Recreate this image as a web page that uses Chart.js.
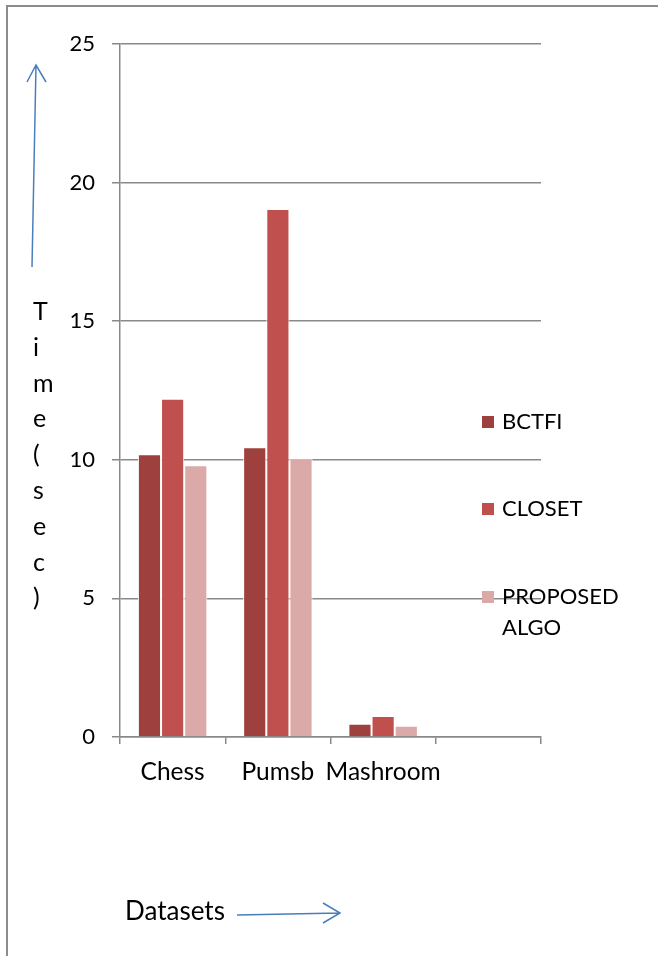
<!DOCTYPE html>
<html>
<head>
<meta charset="utf-8">
<script src="https://cdn.jsdelivr.net/npm/chart.js@4.4.1/dist/chart.umd.min.js"></script>
<style>
  html, body { margin: 0; padding: 0; background: #fff; }
  #wrap { position: relative; width: 658px; height: 956px; }
  #frame { position: absolute; left: 6px; top: 5px; right: 0; bottom: 0;
           border-left: 2px solid #8c8c8c; border-top: 2px solid #8c8c8c; }
  canvas { position: absolute; left: 0; top: 0; }
</style>
</head>
<body>
<div id="wrap">
  <div id="frame"></div>
  <canvas id="chart" width="658" height="956"></canvas>
</div>
<script>
// chart data
const categories = ['Chess', 'Pumsb', 'Mashroom', ''];
const bctfi = [10.2, 10.45, 0.48, null];
const closet = [12.2, 19.05, 0.76, null];
const proposed = [9.8, 10.05, 0.41, null];
const seriesNames = ['BCTFI', 'CLOSET', 'PROPOSED ALGO'];
const seriesColors = ['#9e413e', '#c0504d', '#dba9a8'];
const yMax = 25;
const yStep = 5;
const yTitle = 'Time(sec)';
const xTitle = 'Datasets';

const FONT = 'Lato, "Open Sans", sans-serif';
const GRID = '#898989';
const ARROW = '#4a7ebb';

// legend drawn over the plot, like the original
const sideLegend = {
    id: 'sideLegend',
    afterDraw(chart) {
        const c = chart.ctx;
        const rows = [422, 509, 597];
        c.save();
        c.font = '22px ' + FONT;
        c.textBaseline = 'middle';
        chart.data.datasets.forEach((ds, i) => {
            const y = rows[i];
            c.fillStyle = ds.backgroundColor;
            c.fillRect(482, y - 6, 12, 12);
            c.fillStyle = '#000';
            ds.label.split(' ').forEach((w, j) => c.fillText(w, 502, y + j * 31));
        });
        c.restore();
    }
};

// axis titles with the hand drawn arrows
const axisNotes = {
    id: 'axisNotes',
    afterDraw(chart) {
        const c = chart.ctx;
        c.save();
        c.font = '25px ' + FONT;
        c.fillStyle = '#000';
        c.textBaseline = 'middle';
        yTitle.split('').forEach((ch, i) => {
            c.fillText(ch, 33, 312 + i * 35.8);
        });
        c.font = '26px ' + FONT;
        c.fillText(xTitle, 125, 912);

        c.strokeStyle = ARROW;
        c.lineWidth = 1.5;
        c.beginPath();
        c.moveTo(32, 267); c.lineTo(36, 65);
        c.moveTo(27, 82); c.lineTo(36, 65); c.lineTo(46, 82);
        c.moveTo(237, 915); c.lineTo(340, 913);
        c.moveTo(323, 903); c.lineTo(340, 913); c.lineTo(323, 923);
        c.stroke();
        c.restore();
    }
};

const ctx = document.getElementById('chart');

new Chart(ctx, {
    type: 'bar',
    data: {
        labels: categories,
        datasets: [bctfi, closet, proposed].map((vals, i) => ({
            label: seriesNames[i],
            data: vals,
            backgroundColor: seriesColors[i],
            borderColor: '#ffffff',
            borderWidth: 1,
            categoryPercentage: 0.66,
            barPercentage: 1
        }))
    },
    options: {
        responsive: false,
        animation: false,
        layout: {
            padding: { left: 0, top: 44, right: 117, bottom: 159 }
        },
        plugins: {
            legend: { display: false },
            tooltip: { enabled: false }
        },
        scales: {
            x: {
                afterFit(scale) { scale.height = 60; },
                grid: {
                    drawOnChartArea: false,
                    drawTicks: true,
                    tickLength: 7,
                    color: GRID,
                    lineWidth: 1.5
                },
                border: { color: GRID, width: 1.5 },
                ticks: {
                    autoSkip: false,
                    maxRotation: 0,
                    minRotation: 0,
                    color: '#000',
                    padding: 13,
                    font: { family: FONT, size: 24.5 }
                }
            },
            y: {
                min: 0,
                max: yMax,
                afterFit(scale) { scale.width = 120; },
                grid: {
                    color: GRID,
                    lineWidth: 1.5,
                    tickLength: 8
                },
                border: { color: GRID, width: 1.5 },
                ticks: {
                    stepSize: yStep,
                    color: '#000',
                    padding: 17,
                    font: { family: FONT, size: 22 }
                }
            }
        }
    },
    plugins: [sideLegend, axisNotes]
});
</script>
</body>
</html>
